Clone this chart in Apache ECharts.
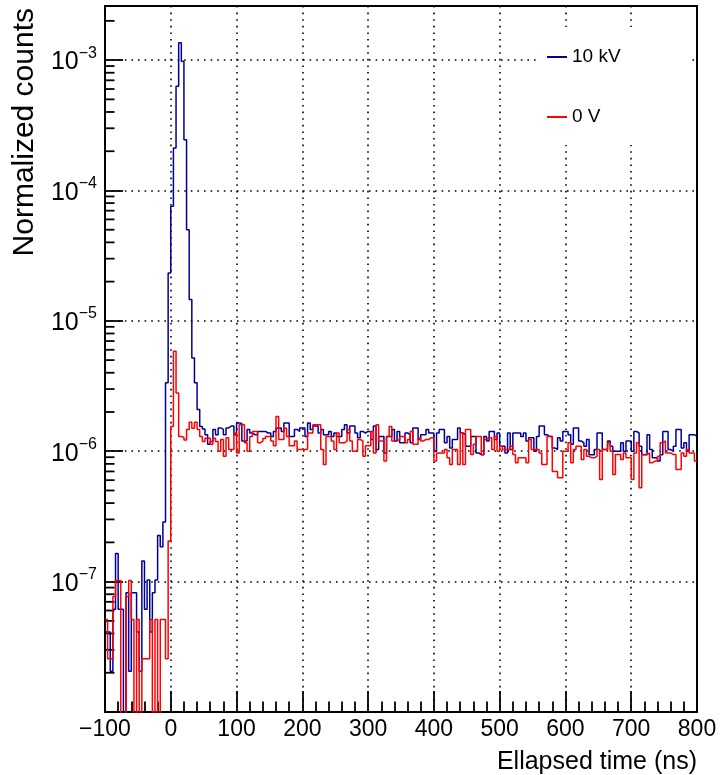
<!DOCTYPE html>
<html><head><meta charset="utf-8">
<script src="https://cdn.jsdelivr.net/npm/echarts@6/dist/echarts.min.js"></script>
<style>html,body{margin:0;padding:0;background:#fff}#c{width:720px;height:775px}</style>
</head><body><div id="c"></div>
<script>
// Histogram binning (ns)
const X_MIN = -100, X_MAX = 800, BIN_WIDTH = 4;
const X_INTERVAL = 100;
// Bin contents, in units of 1e-6 (normalized counts), one value per 4 ns bin from -100 ns
const UNIT = 1e-6;
const seriesNames = ['10 kV', '0 V'];
const blue10kV = [
  0.041, 0.041, 0.0205, 0.0615, 0.164, 0.0615, 0.0615, 0, 0.082, 0.0205, 0.082, 0.082, 0.041, 0.0205, 0.144, 0.0615, 0.103, 0.041, 0.082, 0.103, 0.226, 0.185, 0.287, 3.35, 23.3,
  75.7, 212, 630, 1360, 980, 245, 50, 14.6, 5.2, 3.35, 2.09,
  1.55, 1.48, 1.34, 1.13, 1.19, 1.47, 1.34, 1.51, 1.47, 1.34, 1.51, 1.56, 1.56, 1.34,
  1.65, 1.63, 1.2, 1.2, 1.47, 1.38, 1.34, 1.34, 1.42, 1.42, 1.42, 1.38, 1.38, 1.30, 1.42, 1.51, 1.51, 1.42, 1.65, 1.65, 1.3, 1.3, 1.47, 1.42, 1.51,
  1.51, 1.3, 1.65, 1.47, 1.56, 1.56, 1.38, 1.47, 1.34, 1.34, 1.42, 1.3, 1.38, 1.3, 1.3, 1.47, 1.6, 1.38, 1.56, 1.56, 1.38, 1.27, 1.42, 1.38, 1.42,
  1.42, 1.23, 1.56, 1.03, 1.3, 1.3, 0.97, 1.3, 1.3, 1.47, 1.2, 1.42, 1.16, 1.16, 1.38, 1.34, 1.16, 1.51, 1.51, 1.23, 1.34, 1.34, 1.47, 1.38, 1.38,
  1.0, 1.38, 1.47, 1.47, 1.16, 1.3, 1.06, 1.23, 1.23, 1.51, 1.38, 1.34, 1.09, 1.09, 1.3, 1.3, 0.97, 0.94, 0.94, 1.3, 1.2, 1.42, 1.42, 1.23, 1.38,
  1.09, 1.09, 0.97, 1.38, 1.03, 1.38, 1.38, 1.38, 1.3, 1.38, 1.2, 1.27, 1.27, 1.0, 1.3, 1.56, 1.56, 1.34, 1.3, 1.3, 1.06, 1.03, 1.27, 1.2, 1.42,
  1.42, 1.34, 1.13, 1.51, 1.51, 1.2, 1.16, 1.09, 1.23, 0.94, 0.94, 1.03, 1.38, 1.38, 1.03, 1.03, 1.2, 1.09, 1.0, 1.0, 1.0, 1.16, 1.0, 1.2, 1.2,
  1.0, 1.42, 1.38, 1.09, 0.94, 0.94, 1.34, 1.03, 0.89, 0.89, 0.84, 0.94, 1.42, 1.42, 1.03, 1.0, 1.09, 1.47, 1.47, 1.06, 1.16, 1.0, 1.34, 1.34, 1.3
];
const red0V = [
  0.0512, 0.0256, 0.0256, 0.0768, 0.102, 0.102, 0, 0, 0.0768, 0.102, 0.0512, 0, 0.0512, 0, 0.0256, 0.0256, 0.0256, 0.0512, 0, 0.0512, 0, 0.0512, 0.0512, 0.0256, 0.205,
  1.55, 5.85, 2.8, 1.3, 1.28, 1.22, 1.47, 1.67, 1.5, 1.67, 1.47, 1.3,
  1.19, 1.26, 1.26, 1.13, 1.26, 1.19, 1.0, 1.23, 0.915, 1.27, 1.03, 1.03, 1.38,
  0.97, 1.6, 1.6, 1.16, 1.0, 1.3, 1.42, 1.42, 1.16, 1.2, 1.25, 1.3, 1.3, 1.2, 1.1, 1.85, 1.23, 1.23, 1.5, 1.3, 1.1, 1.1, 1.2, 1.03, 1.03,
  1.03, 1.03, 1.38, 1.38, 1.6, 1.6, 1.6, 1.03, 0.79, 1.3, 1.3, 1.2, 1.03, 1.38, 1.16, 1.16, 1.2, 1.47, 1.2, 1.0, 1.0, 1.23, 1.2, 0.915, 1.1,
  1.1, 1.42, 0.97, 1.6, 1.2, 1.2, 0.84, 1.3, 1.55, 1.2, 1.2, 1.23, 1.3, 1.3, 1.16, 1.23, 1.42, 1.13, 1.13, 1.27, 1.2, 1.23, 1.23, 1.27, 1.27,
  0.84, 0.97, 0.97, 0.97, 1.03, 0.89, 0.79, 1.03, 1.03, 0.79, 1.38, 0.79, 1.47, 1.47, 0.943, 1.13, 1.3, 1.3, 0.943, 1.23, 1.27, 1.27, 1.03, 1.3, 1.0,
  1.09, 1.03, 1.03, 1.03, 1.09, 0.943, 0.815, 0.89, 0.89, 0.89, 0.815, 1.23, 1.03, 1.03, 1.03, 0.97, 0.79, 0.79, 1.3, 1.3, 0.7, 0.7, 0.625, 0.625, 1.0,
  1.0, 1.16, 0.815, 1.03, 1.09, 1.09, 0.864, 1.03, 0.915, 0.89, 0.89, 0.915, 1.03, 0.607, 1.03, 1.03, 1.16, 1.0, 0.663, 0.943, 0.943, 0.864, 0.97, 0.89, 0.89,
  0.607, 0.97, 1.16, 0.524, 0.943, 0.943, 0.97, 0.815, 0.84, 0.84, 0.915, 1.16, 1.2, 0.97, 0.97, 0.943, 0.943, 0.724, 0.724, 0.97, 0.915, 1.03, 0.97, 0.97, 0.84
];
// Y axis range (log)
const Y_MIN = 1e-8, Y_MAX = 2.6e-3;
const minorMultipliers = [2, 3, 4, 5, 6, 7, 8, 9];
const decades = [-8, -7, -6, -5, -4, -3];

const FONT = 'Liberation Sans, Arial, Helvetica, sans-serif';
const BELOW = 1e-10; // empty bins drawn down to the frame

function histData(vals) {
  const d = vals.map((v, i) => [X_MIN + i * BIN_WIDTH, v > 0 ? v * UNIT : BELOW]);
  const last = vals[vals.length - 1];
  d.push([X_MIN + vals.length * BIN_WIDTH, last > 0 ? last * UNIT : BELOW]);
  return d;
}
const minorTickVals = [];
decades.forEach(e => minorMultipliers.forEach(m => {
  const v = m * Math.pow(10, e);
  if (v > Y_MIN && v < Y_MAX) minorTickVals.push([X_MIN, v]);
}));

const chart = echarts.init(document.getElementById('c'), null, {renderer: 'canvas'});
chart.setOption({
  animation: false,
  backgroundColor: '#fff',
  grid: {left: 105, top: 6, width: 592, height: 706, show: true, borderColor: '#000', borderWidth: 2, backgroundColor: 'transparent'},
  legend: {
    data: seriesNames, orient: 'vertical', left: 540, top: 27, itemGap: 40,
    padding: [20, 68, 18, 7], backgroundColor: '#fff',
    itemWidth: 20, itemHeight: 2, icon: 'rect',
    textStyle: {fontFamily: FONT, fontSize: 19, color: '#000', lineHeight: 20}
  },
  xAxis: {
    type: 'value', min: X_MIN, max: X_MAX, interval: X_INTERVAL,
    axisLine: {show: true, onZero: false, lineStyle: {color: '#000', width: 2}},
    axisTick: {show: true, inside: true, length: 21, lineStyle: {color: '#000', width: 1.8}},
    minorTick: {show: true, splitNumber: 5, length: 10.5, lineStyle: {color: '#000', width: 1.8}},
    axisLabel: {color: '#000', fontFamily: FONT, fontSize: 23, margin: 6,
      formatter: v => String(v).replace('-', '\u2212')},
    splitLine: {show: true, lineStyle: {color: '#000', width: 1.6, type: [1.6, 5]}},
    minorSplitLine: {show: false}
  },
  yAxis: {
    type: 'log', logBase: 10, min: Y_MIN, max: Y_MAX, splitNumber: 6,
    axisLine: {show: true, onZero: false, lineStyle: {color: '#000', width: 2}},
    axisTick: {show: true, inside: true, length: 18, lineStyle: {color: '#000', width: 1.8}},
    axisLabel: {
      color: '#000', margin: 8,
      formatter: v => {
        const e = Math.log10(v), r = Math.round(e);
        if (Math.abs(e - r) > 1e-6 || r <= -8) return '';
        return '{b|10}{e|\u2212' + (-r) + '}';
      },
      rich: {
        b: {fontFamily: FONT, fontSize: 25, color: '#000', lineHeight: 30, verticalAlign: 'bottom'},
        e: {fontFamily: FONT, fontSize: 16, color: '#000', lineHeight: 16, verticalAlign: 'top'}
      }
    },
    splitLine: {show: true, lineStyle: {color: '#000', width: 1.6, type: [1.6, 5]}}
  },
  graphic: [
    {type: 'text', x: 25, y: 8, rotation: Math.PI / 2,
      style: {text: 'Normalized counts', font: '30px ' + FONT, fill: '#000', align: 'right', verticalAlign: 'middle'}},
    {type: 'text', x: 697, y: 762,
      style: {text: 'Ellapsed time (ns)', font: '25px ' + FONT, fill: '#000', align: 'right', verticalAlign: 'middle'}}
  ],
  series: [
    {type: 'custom', silent: true, clip: false, data: minorTickVals,
      renderItem: (params, api) => {
        const p = api.coord([api.value(0), api.value(1)]);
        const x0 = params.coordSys.x;
        return {type: 'line', shape: {x1: x0, y1: p[1], x2: x0 + 9.5, y2: p[1]}, style: {stroke: '#000', lineWidth: 1.8}};
      }},
    {name: seriesNames[0], type: 'line', step: 'end', showSymbol: false, symbol: 'none', clip: true,
      data: histData(blue10kV), lineStyle: {color: '#000099', width: 1.5}, itemStyle: {color: '#000099'}},
    {name: seriesNames[1], type: 'line', step: 'end', showSymbol: false, symbol: 'none', clip: true,
      data: histData(red0V), lineStyle: {color: '#ff0000', width: 1.5}, itemStyle: {color: '#ff0000'}}
  ]
});
</script></body></html>
